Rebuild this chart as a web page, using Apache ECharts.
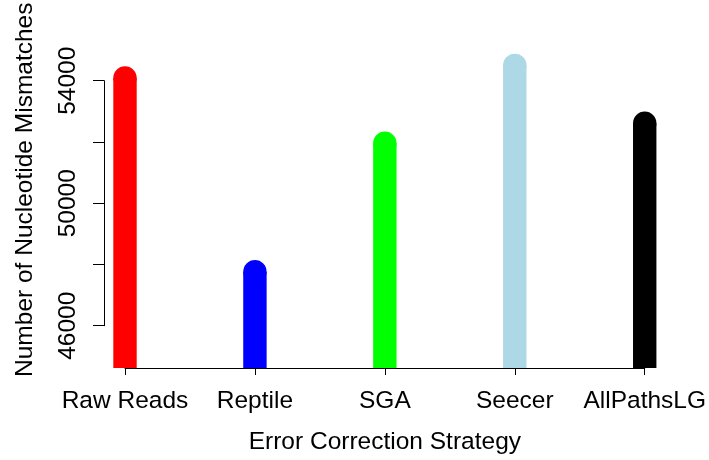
<!DOCTYPE html>
<html><head><meta charset="utf-8">
<script src="https://cdn.jsdelivr.net/npm/echarts@6/dist/echarts.min.js"></script>
<style>html,body{margin:0;padding:0;background:#fff}#c{width:709px;height:460px}</style>
</head><body><div id="c"></div>
<script>
const categories = ["Raw Reads", "Reptile", "SGA", "Seecer", "AllPathsLG"];
const values = [54200, 47780, 52040, 54620, 52700];
const colors = ["#FF0000", "#0000FF", "#00FF00", "#ADD8E6", "#000000"];
const yTicks = [46000, 48000, 50000, 52000, 54000];
const yShownLabels = [46000, 50000, 54000];

const yMin = 44586, yMax = 56406;
const font = "Liberation Sans, Arial, sans-serif";
const fs = 24.5;
const barW = 23.4;

const chart = echarts.init(document.getElementById('c'), null, {renderer: 'canvas'});
chart.setOption({
  animation: false,
  backgroundColor: '#fff',
  grid: [
    {left: 125, right: 63.3, top: 7, bottom: 91},
    {left: 104, right: 42.5, top: 80.7, bottom: 134.3}
  ],
  xAxis: [
    {gridIndex: 0, type: 'category', data: categories, boundaryGap: false,
     axisLine: {lineStyle: {color: '#000', width: 1}},
     axisTick: {show: true, length: 7, lineStyle: {color: '#000'}},
     axisLabel: {color: '#000', fontSize: fs, fontFamily: font, margin: 21, interval: 0},
     name: 'Error Correction Strategy', nameLocation: 'middle', nameGap: 62,
     nameTextStyle: {color: '#000', fontSize: fs, fontFamily: font}},
    {gridIndex: 1, type: 'value', show: false, min: 0, max: 1}
  ],
  yAxis: [
    {gridIndex: 0, type: 'value', min: yMin, max: yMax, offset: 21,
     axisLine: {show: false}, axisTick: {show: false}, axisLabel: {show: false}, splitLine: {show: false},
     name: 'Number of Nucleotide Mismatches', nameLocation: 'middle', nameGap: 66, nameRotate: 90,
     nameTextStyle: {color: '#000', fontSize: fs, fontFamily: font}},
    {gridIndex: 1, type: 'value', min: yTicks[0], max: yTicks[yTicks.length - 1], interval: 2000,
     axisLine: {show: true, lineStyle: {color: '#000', width: 1}},
     axisTick: {show: true, length: 11, lineStyle: {color: '#000'}},
     splitLine: {show: false},
     axisLabel: {color: '#000', fontSize: fs, fontFamily: font, rotate: 90, margin: 36,
       verticalAlign: 'middle', align: 'center',
       formatter: v => yShownLabels.indexOf(v) >= 0 ? String(v) : ''}}
  ],
  series: [{
    type: 'custom', xAxisIndex: 0, yAxisIndex: 0,
    data: values.map((v, i) => [i, v]),
    renderItem: function (params, api) {
      const i = api.value(0);
      const top = api.coord([i, api.value(1)]);
      const bot = api.coord([i, yMin]);
      const c = colors[i];
      return {type: 'group', children: [
        {type: 'rect', shape: {x: top[0] - barW / 2, y: top[1], width: barW, height: bot[1] - top[1]}, style: {fill: c}},
        {type: 'circle', shape: {cx: top[0], cy: top[1], r: barW / 2}, style: {fill: c}}
      ]};
    },
    z: 1
  }]
});
</script></body></html>
